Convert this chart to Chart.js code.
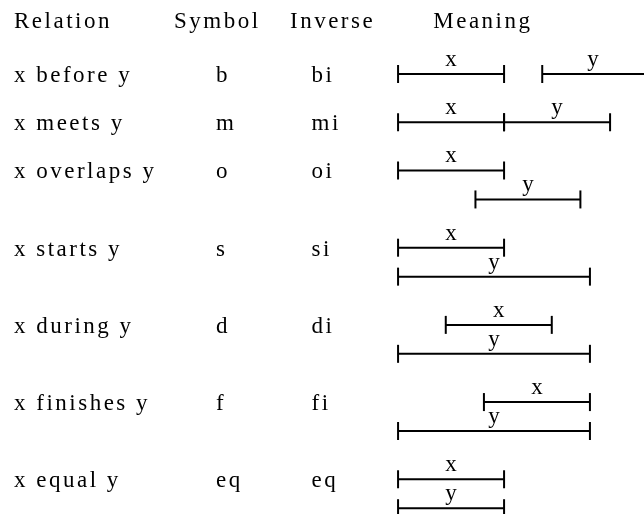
<!DOCTYPE html>
<html lang="en">
<head>
    <meta charset="UTF-8">
    <title>Interval relations</title>
    <style>
        html, body { margin: 0; padding: 0; background: #fff; }
        canvas { display: block; }
    </style>
    <script src="https://cdn.jsdelivr.net/npm/chart.js@4.4.0/dist/chart.umd.min.js"></script>
</head>
<body>
    <canvas id="relations" width="644" height="514"></canvas>
    <script>
        // table text
        const headers = ["Relation", "Symbol", "Inverse", "Meaning"];
        const relations = ["x before y", "x meets y", "x overlaps y", "x starts y", "x during y", "x finishes y", "x equal y"];
        const symbols = ["b", "m", "o", "s", "d", "f", "eq"];
        const inverses = ["bi", "mi", "oi", "si", "di", "fi", "eq"];

        // intervals (time units): x and y of each relation
        const xStart = [0, 0, 0, 0, 4.5, 8.1, 0];
        const xEnd = [10, 10, 10, 10, 14.5, 18.1, 10];
        const yStart = [13.6, 10, 7.3, 0, 0, 0, 0];
        const yEnd = [23.6, 20, 17.2, 18.1, 18.1, 18.1, 10];

        // line of each interval (picture rows)
        const xRow = [0, 5, 10, 18, 26, 34, 42];
        const yRow = [0, 5, 13, 21, 29, 37, 45];
        const headerRow = -5.6;

        const font = "23px 'Liberation Serif', serif";
        const colLeft = [14, 216, 311.5];
        const headLeft = [14, 174, 290];

        function seg(a, b, row) {
            return [{x: a, y: row}, {x: b, y: row}];
        }

        const datasets = [];
        relations.forEach((r, i) => {
            datasets.push({label: "x", data: seg(xStart[i], xEnd[i], xRow[i])});
            datasets.push({label: "y", data: seg(yStart[i], yEnd[i], yRow[i])});
        });
        datasets.forEach(d => Object.assign(d, {
            showLine: true,
            borderColor: "#000",
            borderWidth: 2,
            pointStyle: "line",
            rotation: 90,
            pointRadius: 9,
            pointBorderWidth: 2,
            pointBorderColor: "#000",
        }));

        const textPlugin = {
            id: "tableText",
            afterDatasetsDraw(chart) {
                const ctx = chart.ctx, sx = chart.scales.x, sy = chart.scales.y;
                ctx.save();
                ctx.fillStyle = "#000";
                ctx.font = font;
                ctx.letterSpacing = "2.5px";
                ctx.textBaseline = "alphabetic";

                // headers
                const hy = sy.getPixelForValue(headerRow) + 8;
                ctx.textAlign = "left";
                headers.slice(0, 3).forEach((h, i) => ctx.fillText(h, headLeft[i], hy));
                ctx.textAlign = "center";
                ctx.fillText(headers[3], sx.getPixelForValue(8), hy);

                // rows
                ctx.textAlign = "left";
                relations.forEach((r, i) => {
                    const by = sy.getPixelForValue(xRow[i]) + 8;
                    ctx.fillText(r, colLeft[0], by);
                    ctx.fillText(symbols[i], colLeft[1], by);
                    ctx.fillText(inverses[i], colLeft[2], by);
                });

                // interval names above the bars
                ctx.textAlign = "center";
                ctx.letterSpacing = "0px";
                chart.data.datasets.forEach(d => {
                    const a = d.data[0].x, b = Math.min(d.data[1].x, sx.max);
                    const px = sx.getPixelForValue((a + b) / 2);
                    const py = sy.getPixelForValue(d.data[0].y) - 8;
                    ctx.fillText(d.label, px, py);
                });
                ctx.restore();
            }
        };

        new Chart(document.getElementById("relations"), {
            type: "scatter",
            data: {datasets: datasets},
            options: {
                responsive: false,
                animation: false,
                events: [],
                layout: {padding: 0, autoPadding: false},
                plugins: {legend: {display: false}, tooltip: {enabled: false}},
                scales: {
                    x: {type: "linear", display: false, min: -37.55, max: 23.2},
                    y: {type: "linear", display: false, reverse: true, min: -7.67, max: 45.6}
                }
            },
            plugins: [textPlugin]
        });
    </script>
</body>
</html>
